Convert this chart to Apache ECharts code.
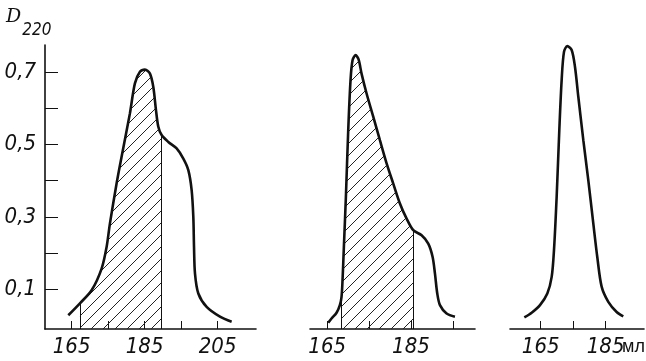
<!DOCTYPE html>
<html>
<head>
<meta charset="utf-8">
<script src="https://cdn.jsdelivr.net/npm/echarts@6/dist/echarts.min.js"></script>
<style>
  html, body { margin: 0; background: #fff; }
  #chart { width: 646px; height: 361px; }
</style>
</head>
<body>
<div id="chart"></div>
<script>
// elution profiles: [volume, ml ; D220]
const curveA = [
  [164.08, 0.028], [167.27, 0.061], [170.47, 0.097], [173.21, 0.157], [174.58, 0.217],
  [175.49, 0.282], [177.31, 0.392], [178.68, 0.466], [180.96, 0.586], [182.33, 0.669],
  [183.71, 0.701], [185.08, 0.707], [186.45, 0.696], [187.37, 0.659], [188.10, 0.595],
  [188.74, 0.549], [189.65, 0.526], [191.48, 0.507], [193.76, 0.489], [195.59, 0.461],
  [196.96, 0.429], [197.87, 0.374], [198.33, 0.300], [198.52, 0.217], [198.79, 0.143],
  [199.70, 0.088], [201.98, 0.051], [205.63, 0.024], [208.83, 0.010]
];
const curveB = [
  [165.25, 0.007], [166.04, 0.019], [167.24, 0.035], [168.03, 0.056], [168.43, 0.079],
  [168.67, 0.125], [168.99, 0.217], [169.47, 0.355], [170.03, 0.540], [170.58, 0.678],
  [171.06, 0.733], [171.78, 0.747], [172.50, 0.735], [173.21, 0.696], [174.41, 0.641],
  [176.00, 0.577], [177.59, 0.512], [179.19, 0.448], [180.78, 0.392], [182.37, 0.337],
  [183.97, 0.295], [185.56, 0.263], [187.55, 0.249], [189.14, 0.226], [190.18, 0.189],
  [190.74, 0.143], [191.29, 0.088], [191.93, 0.056], [193.52, 0.033], [195.51, 0.024]
];
const curveC = [
  [159.96, 0.022], [162.22, 0.035], [164.78, 0.056], [167.04, 0.088], [168.38, 0.134],
  [169.09, 0.208], [169.91, 0.355], [170.73, 0.540], [171.45, 0.678], [172.17, 0.756],
  [173.19, 0.772], [174.53, 0.761], [175.55, 0.715], [176.58, 0.632], [178.12, 0.512],
  [179.66, 0.401], [181.19, 0.282], [182.42, 0.189], [183.76, 0.107], [185.81, 0.065],
  [188.38, 0.037], [190.42, 0.025]
];
// shaded fraction, first and last index into the curve
const hatchA = [1, 16];
const hatchB = [4, 21];

const yTicks = [0.1, 0.2, 0.3, 0.4, 0.5, 0.6, 0.7];
const yLabels = [0.1, 0.3, 0.5, 0.7];
const xTicksA = [165, 175, 185, 195, 205];
const xLabelsA = [165, 185, 205];
const xTicksB = [165, 175, 185, 195];
const xLabelsB = [165, 185];
const xTicksC = [165, 175, 185];
const xLabelsC = [165, 185];

const Y_MIN = -0.01, Y_MAX = 0.775;
const FONT = '"DejaVu Sans Condensed", "Liberation Sans Narrow", sans-serif';
const INK = '#111';

function hatchPattern() {
  const c = document.createElement('canvas');
  c.width = 12; c.height = 12;
  const g = c.getContext('2d');
  g.strokeStyle = '#222';
  g.lineWidth = 1;
  g.beginPath();
  g.moveTo(0, 12); g.lineTo(12, 0);
  g.moveTo(-6, 6); g.lineTo(6, -6);
  g.moveTo(6, 18); g.lineTo(18, 6);
  g.stroke();
  return c;
}

function xAxis(i, min, max, ticks, labels) {
  return {
    type: 'value', gridIndex: i, min: min, max: max,
    axisLine: { onZero: false, lineStyle: { color: INK, width: 1.6 } },
    splitLine: { show: false },
    axisTick: { inside: true, length: 8, customValues: ticks, lineStyle: { color: INK, width: 1 } },
    axisLabel: {
      customValues: labels, margin: 7, color: INK,
      fontFamily: FONT, fontStyle: 'italic', fontSize: 22
    }
  };
}

function yAxis(i, visible) {
  return {
    type: 'value', gridIndex: i, min: Y_MIN, max: Y_MAX, show: visible,
    axisLine: { show: true, onZero: false, lineStyle: { color: INK, width: 1.6 } },
    splitLine: { show: false },
    axisTick: { show: true, inside: true, length: 13, customValues: yTicks, lineStyle: { color: INK, width: 1 } },
    axisLabel: {
      customValues: yLabels, margin: 9, color: INK,
      fontFamily: FONT, fontStyle: 'italic', fontSize: 22,
      formatter: v => v.toFixed(1).replace('.', ',')
    }
  };
}

function curve(i, data) {
  return {
    type: 'line', xAxisIndex: i, yAxisIndex: i, data: data,
    smooth: 0.3, showSymbol: false, silent: true, z: 3,
    lineStyle: { color: INK, width: 2.6 }
  };
}

function shaded(i, data, range) {
  const part = data.slice(range[0], range[1] + 1);
  const a = part[0], b = part[part.length - 1];
  return {
    type: 'line', xAxisIndex: i, yAxisIndex: i, data: part,
    smooth: 0.3, showSymbol: false, silent: true, z: 2,
    lineStyle: { width: 0 },
    areaStyle: { origin: 'start', opacity: 1, color: { image: hatchPattern(), repeat: 'repeat' } },
    markLine: {
      silent: true, symbol: 'none', label: { show: false },
      lineStyle: { color: INK, width: 1, type: 'solid' },
      data: [
        [{ coord: [a[0], Y_MIN] }, { coord: [a[0], a[1]] }],
        [{ coord: [b[0], Y_MIN] }, { coord: [b[0], b[1]] }]
      ]
    }
  };
}

const chart = echarts.init(document.getElementById('chart'), null, { renderer: 'canvas' });
chart.setOption({
  animation: false,
  backgroundColor: '#fff',
  grid: [
    { left: 45, top: 45, width: 211, height: 284 },
    { left: 310, top: 45, width: 165, height: 284 },
    { left: 510, top: 45, width: 134, height: 284 }
  ],
  xAxis: [
    xAxis(0, 157.7, 215.5, xTicksA, xLabelsA),
    xAxis(1, 160.9, 200.3, xTicksB, xLabelsB),
    xAxis(2, 155.55, 196.8, xTicksC, xLabelsC)
  ],
  yAxis: [yAxis(0, true), yAxis(1, false), yAxis(2, false)],
  graphic: [
    {
      type: 'text', left: 6, top: 8,
      style: {
        text: '{d|D}{s|220}',
        rich: {
          d: { fontFamily: 'DejaVu Serif, serif', fontStyle: 'italic', fontSize: 19, fill: INK },
          s: { fontFamily: FONT, fontStyle: 'italic', fontSize: 17, fill: INK, padding: [27, 0, 0, 1] }
        }
      }
    },
    {
      type: 'text', left: 622, top: 338,
      style: { text: 'мл', fontFamily: '"Liberation Sans", sans-serif', fontSize: 18, fill: INK }
    }
  ],
  series: [
    shaded(0, curveA, hatchA),
    curve(0, curveA),
    shaded(1, curveB, hatchB),
    curve(1, curveB),
    curve(2, curveC)
  ]
});
</script>
</body>
</html>
